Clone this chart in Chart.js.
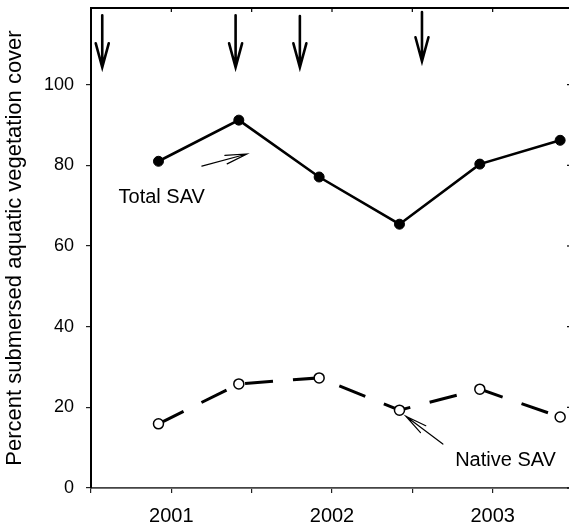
<!DOCTYPE html>
<html>
<head>
<meta charset="utf-8">
<script src="https://cdn.jsdelivr.net/npm/chart.js@4.4.1/dist/chart.umd.min.js"></script>
<style>
  html, body { margin: 0; padding: 0; background: #fff; overflow: hidden; }
  #wrap { width: 580px; height: 526px; position: relative; }
</style>
</head>
<body>
<div id="wrap"><canvas id="chart"></canvas></div>
<script>
// sampling dates (decimal years) and cover values (%)
const sampleDates = [2000.92, 2001.42, 2001.92, 2002.42, 2002.92, 2003.42];
const totalSAV = [81, 91.2, 77.1, 65.4, 80.3, 86.2];
const nativeSAV = [15.9, 25.8, 27.3, 19.3, 24.5, 17.6];

// event arrows along the top of the plot
const arrowDates = [2000.57, 2001.40, 2001.80, 2002.56];
const arrowTops = [117.2, 117.2, 117.0, 118.0];
const arrowTips = [104.3, 104.3, 104.3, 105.8];

const yearLabels = [2001, 2002, 2003];
const FONT = '"Liberation Sans", Arial, Helvetica, sans-serif';

const toPoints = vals => vals.map((v, i) => ({ x: sampleDates[i], y: v }));

// Frame, top arrows and series labels
const annotate = {
    id: 'annotate',
    afterDraw(chart) {
        const { ctx, chartArea: a, scales: { x, y } } = chart;
        ctx.save();
        ctx.strokeStyle = '#000';
        ctx.fillStyle = '#000';

        // top / right border
        ctx.lineWidth = 2;
        ctx.beginPath();
        ctx.moveTo(a.left, a.top);
        ctx.lineTo(a.right, a.top);
        ctx.lineTo(a.right, a.bottom);
        ctx.stroke();

        // inward ticks on top and right
        ctx.lineWidth = 1.2;
        for (let v = 2001; v <= 2003; v += 0.5) {
            const px = x.getPixelForValue(v);
            ctx.beginPath();
            ctx.moveTo(px, a.top);
            ctx.lineTo(px, a.top + 4);
            ctx.stroke();
        }
        for (let v = 0; v <= 100; v += 20) {
            const py = y.getPixelForValue(v);
            ctx.beginPath();
            ctx.moveTo(a.right, py);
            ctx.lineTo(a.right - 6, py);
            ctx.stroke();
        }

        // down arrows
        ctx.lineWidth = 2.6;
        ctx.lineCap = 'round';
        arrowDates.forEach((d, i) => {
            const px = x.getPixelForValue(d);
            const top = y.getPixelForValue(arrowTops[i]);
            const tip = y.getPixelForValue(arrowTips[i]);
            ctx.beginPath();
            ctx.moveTo(px, top);
            ctx.lineTo(px, tip);
            ctx.moveTo(px - 6.5, tip - 24);
            ctx.lineTo(px, tip);
            ctx.lineTo(px + 6.5, tip - 24);
            ctx.stroke();
        });

        // thin open arrows pointing at the series
        const thinArrow = (x0, y0, x1, y1) => {
            const p0 = { x: x.getPixelForValue(x0), y: y.getPixelForValue(y0) };
            const p1 = { x: x.getPixelForValue(x1), y: y.getPixelForValue(y1) };
            const ang = Math.atan2(p1.y - p0.y, p1.x - p0.x);
            const len = 22, spread = 0.2;
            ctx.lineWidth = 1.2;
            ctx.beginPath();
            ctx.moveTo(p0.x, p0.y);
            ctx.lineTo(p1.x, p1.y);
            ctx.moveTo(p1.x - len * Math.cos(ang - spread), p1.y - len * Math.sin(ang - spread));
            ctx.lineTo(p1.x, p1.y);
            ctx.lineTo(p1.x - len * Math.cos(ang + spread), p1.y - len * Math.sin(ang + spread));
            ctx.stroke();
        };
        thinArrow(2001.19, 79.8, 2001.47, 82.8);
        thinArrow(2002.69, 10.9, 2002.46, 17.8);

        ctx.font = '20px ' + FONT;
        ctx.textAlign = 'center';
        ctx.textBaseline = 'middle';
        ctx.fillText('Total SAV', x.getPixelForValue(2000.94), y.getPixelForValue(72.1));
        ctx.fillText('Native SAV', x.getPixelForValue(2003.08), y.getPixelForValue(6.9));
        ctx.restore();
    }
};

new Chart(document.getElementById('chart'), {
    type: 'scatter',
    data: {
        datasets: [
            {
                label: 'Total SAV',
                data: toPoints(totalSAV),
                showLine: true,
                borderColor: '#000',
                borderWidth: 2.6,
                pointRadius: 5,
                pointBackgroundColor: '#000',
                pointBorderColor: '#000',
                pointBorderWidth: 1
            },
            {
                label: 'Native SAV',
                data: toPoints(nativeSAV),
                showLine: true,
                borderColor: '#000',
                borderWidth: 3,
                borderDash: [28, 20],
                pointRadius: 5,
                pointBackgroundColor: '#fff',
                pointBorderColor: '#000',
                pointBorderWidth: 1.5
            }
        ]
    },
    options: {
        responsive: true,
        maintainAspectRatio: false,
        animation: false,
        layout: { padding: { top: 8, right: 7, left: 0, bottom: 0 } },
        plugins: { legend: { display: false }, tooltip: { enabled: false } },
        scales: {
            x: {
                type: 'linear',
                min: 2000.5,
                max: 2003.5,
                afterFit: s => { s.height = 38; s.paddingLeft = 0; s.paddingRight = 0; },
                afterBuildTicks: s => {
                    s.ticks = [];
                    for (let v = 2000.5; v <= 2003.5; v += 0.5) s.ticks.push({ value: v });
                },
                ticks: {
                    autoSkip: false,
                    maxRotation: 0,
                    padding: 11,
                    color: '#000',
                    font: { family: FONT, size: 20 },
                    callback: v => yearLabels.includes(v) ? String(v) : ''
                },
                grid: { drawOnChartArea: false, tickLength: 5, color: '#222', lineWidth: 1.2 },
                border: { color: '#444', width: 1.8 }
            },
            y: {
                min: 0,
                max: 119,
                afterFit: s => { s.width = 91; s.paddingTop = 0; s.paddingBottom = 0; },
                afterBuildTicks: s => {
                    s.ticks = s.ticks.filter(t => t.value % 20 === 0 && t.value <= 100);
                },
                ticks: {
                    stepSize: 20,
                    padding: 12,
                    color: '#000',
                    font: { family: FONT, size: 18 }
                },
                grid: { drawOnChartArea: false, tickLength: 5, color: '#222', lineWidth: 1.2 },
                border: { color: '#000', width: 2 },
                title: {
                    display: true,
                    text: 'Percent submersed aquatic vegetation cover',
                    color: '#000',
                    font: { family: FONT, size: 22 },
                    padding: { top: 2, bottom: 0 }
                }
            }
        }
    },
    plugins: [annotate]
});
</script>
</body>
</html>
